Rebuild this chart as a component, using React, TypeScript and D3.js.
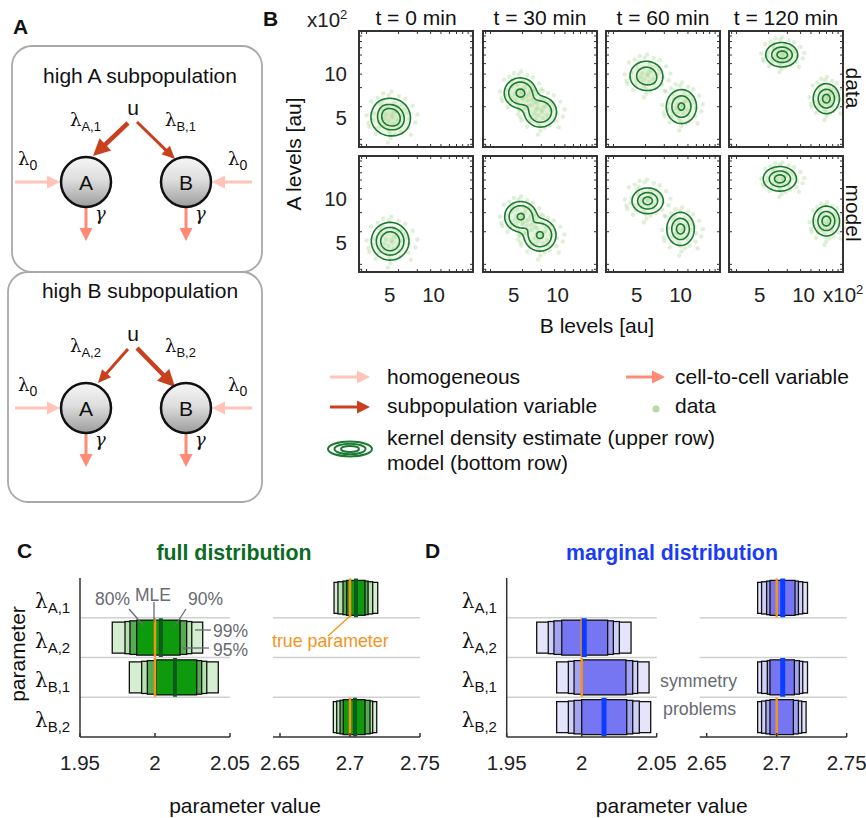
import React from 'react';
import * as d3 from 'd3';

const FONT = 'Liberation Sans, Arial, Helvetica, sans-serif';
const SERIF = 'DejaVu Serif, Liberation Serif, serif';

// ---------- panel B: A/B levels (x10^2 au) ----------
const times = ['t = 0 min', 't = 30 min', 't = 60 min', 't = 120 min'];
const rowNames = ['data', 'model'];
const levelTicks = [5, 10];
const domainB = [1.5, 14.5];
const domainA = [1.6, 14.8];

// clusters: [B level, A level, sd B, sd A, weight]
const dataClusters = [
  [[5.1, 5.0, 1.0, 0.95, 1], [6.0, 4.3, 0.6, 0.6, 0.12], [4.3, 6.0, 0.5, 0.5, 0.08]],
  [[5.75, 7.75, 0.85, 0.8, 1], [8.05, 5.6, 0.9, 0.85, 0.8], [6.9, 6.8, 0.6, 0.6, 0.1]],
  [[6.1, 9.7, 0.9, 0.8, 0.85], [10.1, 6.2, 0.8, 0.9, 1], [6.9, 9.1, 0.5, 0.5, 0.1]],
  [[7.5, 12.1, 0.85, 0.65, 1], [12.6, 7.1, 0.7, 0.8, 1], [8.2, 12.0, 0.45, 0.45, 0.1]],
];
const dataLevels = [[0.08, 0.33, 0.6], [0.1, 0.3, 0.85], [0.1, 0.4, 0.9], [0.1, 0.4, 0.8]];
const modelClusters = [
  [[5.05, 5.1, 1.0, 1.0, 1]],
  [[5.8, 7.9, 0.85, 0.8, 1], [8.0, 5.8, 0.85, 0.85, 1]],
  [[6.25, 9.7, 0.83, 0.68, 1], [10.0, 6.5, 0.73, 0.88, 1]],
  [[7.3, 12.2, 0.88, 0.65, 1], [12.6, 7.4, 0.7, 0.79, 1]],
];
const modelLevels = [[0.1, 0.29, 0.56], [0.1, 0.3, 0.9], [0.1, 0.39, 0.81], [0.1, 0.39, 0.78]];

// cell positions relative to their cluster, in sd units
const dotOffsets = [
  [0.1, 0.2], [-0.5, 0.3], [0.8, -0.4], [-1.2, -0.6], [1.5, 0.9], [-0.3, -1.4], [0.4, 1.6],
  [-1.8, 0.4], [2.0, -0.2], [-0.9, 1.9], [1.1, -1.7], [-2.3, -1.1], [2.4, 1.3], [0.0, -2.4],
  [-0.2, 2.5], [1.9, -1.2], [-1.6, -1.9], [0.6, 0.7], [-0.7, -0.2], [0.3, -0.8], [-1.0, 0.9],
  [1.3, 0.2], [-0.4, 1.1], [0.9, -1.0], [-2.6, 0.2], [2.7, -0.6], [-1.4, 2.2], [1.6, 2.1],
  [-0.1, -1.8], [0.2, 0.0], [-0.6, -0.9], [0.7, 1.2], [1.8, 0.5], [-1.9, -0.3], [0.5, -2.0],
  [-1.1, 1.5], [2.2, -2.0], [-2.1, 1.8], [0.1, 2.9], [-0.3, -2.9], [0.35, 0.55], [-0.25, -0.45],
  [1.2, 1.4], [-1.3, -1.2], [0.9, 2.4], [-2.4, -0.7], [2.9, 0.3], [-0.8, 2.7],
];

const colX = [359, 483, 606, 729];
const rowY = [31, 156];
const pw = 114;
const ph = 116;

// ---------- panels C / D: confidence intervals ----------
const params = ['A,1', 'A,2', 'B,1', 'B,2'];
const ciNames = ['99%', '95%', '90%', '80%'];
const trueValues = [2.7, 2.0, 2.0, 2.7];
const leftTicks = [1.95, 2, 2.05];
const rightTicks = [2.65, 2.7, 2.75];

const full99 = [[[2.6886, 2.7198]], [[1.9715, 2.0318]], [[1.9829, 2.0422]], [[2.6881, 2.7191]]];
const full95 = [[[2.6914, 2.7162]], [[1.98, 2.0245]], [[1.9911, 2.0345]], [[2.6905, 2.7162]]];
const full90 = [[[2.695, 2.7129]], [[1.9833, 2.0211]], [[1.9949, 2.0311]], [[2.6929, 2.7143]]];
const full80 = [[[2.6976, 2.7107]], [[1.9878, 2.0167]], [[2.0007, 2.0278]], [[2.6952, 2.7107]]];
const fullMLE = [[2.7043], [2.0039], [2.0133], [2.7036]];

const marg99 = [[[2.6864, 2.722]], [[1.97, 2.0329]], [[1.9833, 2.0449], [2.6864, 2.722]], [[1.9833, 2.046], [2.6864, 2.721]]];
const marg95 = [[[2.6892, 2.7186]], [[1.9777, 2.0251]], [[1.9911, 2.0373], [2.6892, 2.7186]], [[1.9911, 2.0384], [2.6892, 2.7179]]];
const marg90 = [[[2.6928, 2.7155]], [[1.9815, 2.0211]], [[1.9949, 2.034], [2.6933, 2.7162]], [[1.9949, 2.034], [2.6923, 2.7155]]];
const marg80 = [[[2.6952, 2.7131]], [[1.9867, 2.0173]], [[2.0, 2.0295], [2.6952, 2.7126]], [[2.0, 2.03], [2.6952, 2.7119]]];
const margMLE = [[2.7043], [2.0017], [2.7043], [2.0149]];

const fullColors = ['#d5eed1', '#b6e0ae', '#55ab52', '#0d9a0d'];
const margColors = ['#e4e4fb', '#cfcff8', '#a3a3f2', '#7676f3'];
const boxFrac = [0.78, 0.81, 0.845, 0.88];

function Arrow({ x1, y1, x2, y2, color, width = 3, head = 13, headW = 13 }: any) {
  const dx = x2 - x1, dy = y2 - y1, len = Math.hypot(dx, dy);
  const ux = dx / len, uy = dy / len;
  const bx = x2 - ux * head, by = y2 - uy * head;
  const px = (-uy * headW) / 2, py = (ux * headW) / 2;
  return (
    <g>
      <line x1={x1} y1={y1} x2={bx + ux} y2={by + uy} stroke={color} strokeWidth={width} />
      <polygon points={`${x2},${y2} ${bx + px},${by + py} ${bx - px},${by - py}`} fill={color} />
    </g>
  );
}

function Lam({ x, y, sub, size = 18, subSize = 13, fill = '#111' }: any) {
  return (
    <text x={x} y={y} fill={fill}>
      <tspan fontFamily={SERIF} fontSize={size}>λ</tspan>
      <tspan fontFamily={FONT} fontSize={subSize} dy={size * 0.25}>{sub}</tspan>
    </text>
  );
}

const PINK = '#ffc3b7';
const SALMON = '#ff8a75';
const RED = '#c9401e';

function Motif({ dy, title, titleY, sub1, sub2, thickA }: any) {
  const ay = 182 + dy;
  return (
    <g>
      <text x={140} y={titleY} textAnchor="middle" fontSize={21} fill="#111">{title}</text>
      <text x={133} y={115 + dy} textAnchor="middle" fontSize={21} fill="#111">u</text>
      <Lam x={70} y={126 + dy} sub={sub1} />
      <Lam x={165} y={126 + dy} sub={sub2} />
      <Arrow x1={128} y1={123 + dy} x2={thickA ? 93 : 98} y2={(thickA ? 156 : 157) + dy} color={RED}
        width={thickA ? 4.5 : 3} head={thickA ? 17 : 13} headW={thickA ? 17 : 12} />
      <Arrow x1={137} y1={122 + dy} x2={175} y2={(thickA ? 159 : 161) + dy} color={RED}
        width={thickA ? 3 : 4.5} head={thickA ? 13 : 17} headW={thickA ? 12 : 17} />
      <Arrow x1={15} y1={ay} x2={60} y2={ay} color={PINK} width={3} head={13} headW={13} />
      <Arrow x1={252} y1={ay} x2={212} y2={ay} color={PINK} width={3} head={13} headW={13} />
      <Arrow x1={86} y1={ay + 25} x2={86} y2={ay + 59} color={SALMON} width={3} head={13} headW={13} />
      <Arrow x1={186} y1={ay + 25} x2={186} y2={ay + 59} color={SALMON} width={3} head={13} headW={13} />
      <circle cx={86} cy={ay} r={25} fill="url(#nodeGrad)" stroke="#111" strokeWidth={2.5} />
      <circle cx={186} cy={ay} r={25} fill="url(#nodeGrad)" stroke="#111" strokeWidth={2.5} />
      <text x={86} y={ay + 7.5} textAnchor="middle" fontSize={21} fill="#111">A</text>
      <text x={186} y={ay + 7.5} textAnchor="middle" fontSize={21} fill="#111">B</text>
      <Lam x={18} y={165 + dy} sub="0" subSize={14} />
      <Lam x={228} y={165 + dy} sub="0" subSize={14} />
      <text x={95} y={220 + dy} fontFamily={SERIF} fontStyle="italic" fontSize={18} fill="#111">γ</text>
      <text x={195} y={220 + dy} fontFamily={SERIF} fontStyle="italic" fontSize={18} fill="#111">γ</text>
    </g>
  );
}

function PanelA() {
  return (
    <g>
      <text x={13} y={34} fontSize={21} fontWeight="bold" fill="#111">A</text>
      <rect x={12} y={46} width={250} height={226} rx={20} fill="none" stroke="#a9a9a9" strokeWidth={1.8} />
      <rect x={8} y={272} width={254} height={230} rx={20} fill="none" stroke="#a9a9a9" strokeWidth={1.8} />
      <Motif dy={0} title="high A subpopulation" titleY={83} sub1="A,1" sub2="B,1" thickA={true} />
      <Motif dy={226} title="high B subpopulation" titleY={298} sub1="A,2" sub2="B,2" thickA={false} />
    </g>
  );
}

function densityPaths(clusters: number[][], levels: number[], xs: any, ys: any) {
  const n = 100;
  const [x0, x1] = xs.domain();
  const [y0, y1] = ys.domain();
  const vals = new Array(n * n);
  for (let j = 0; j < n; j++) {
    const y = y0 + ((j + 0.5) / n) * (y1 - y0);
    for (let i = 0; i < n; i++) {
      const x = x0 + ((i + 0.5) / n) * (x1 - x0);
      let v = 0;
      for (const [cx, cy, sx, sy, w] of clusters) {
        v += w * Math.exp(-0.5 * ((x - cx) / sx) ** 2 - 0.5 * ((y - cy) / sy) ** 2);
      }
      vals[j * n + i] = v;
    }
  }
  const mx = d3.max(vals) as number;
  const cs = d3.contours().size([n, n]).thresholds(levels.map((l) => l * mx))(vals);
  const proj = d3.geoTransform({
    point: function (px: number, py: number) {
      (this as any).stream.point(xs(x0 + (px / n) * (x1 - x0)), ys(y0 + (py / n) * (y1 - y0)));
    },
  });
  const path = d3.geoPath(proj);
  return cs.map((c) => path(c as any));
}

function ScatterPanel({ col, row }: any) {
  const x0 = colX[col], y0 = rowY[row];
  const xs = d3.scaleLinear(domainB, [x0, x0 + pw]);
  const ys = d3.scaleLinear(domainA, [y0 + ph, y0]);
  const clusters = row === 0 ? dataClusters[col] : modelClusters[col];
  const levels = row === 0 ? dataLevels[col] : modelLevels[col];
  const paths = densityPaths(clusters, levels, xs, ys);
  const dots = dataClusters[col]
    .filter((c) => c[4] >= 0.5)
    .flatMap((c) => dotOffsets.map(([u, v]) => [c[0] + u * c[2] * 1.05, c[1] + v * c[3] * 1.05]));
  const xl = d3.scaleLog([0.085, 1], [x0, x0 + pw]);
  const yl = d3.scaleLog([0.085, 1], [y0 + ph, y0]);
  const tk = xl.ticks().filter((t) => t > 0.086 && t < 0.99);
  const tl = 3;
  return (
    <g>
      {paths.map((d, i) => (
        <path key={`f${i}`} d={d || ''} fill="#b9dea6" fillOpacity={row === 0 ? 0.28 : 0.18} stroke="none" />
      ))}
      <g fill="#a3d48c" fillOpacity={0.35}>
        {dots.map(([b, a], i) => (
          <circle key={i} cx={xs(b)} cy={ys(a)} r={2.2} />
        ))}
      </g>
      {paths.map((d, i) => (
        <path key={i} d={d || ''} fill="none" stroke="#1c7a33" strokeWidth={1.6} />
      ))}
      <g stroke="#333" strokeWidth={1}>
        {tk.map((t, i) => (
          <g key={i}>
            <line x1={xl(t)} x2={xl(t)} y1={y0 + ph} y2={y0 + ph - tl} />
            <line x1={xl(t)} x2={xl(t)} y1={y0} y2={y0 + tl} />
            <line y1={yl(t)} y2={yl(t)} x1={x0} x2={x0 + tl} />
            <line y1={yl(t)} y2={yl(t)} x1={x0 + pw} x2={x0 + pw - tl} />
          </g>
        ))}
      </g>
      <rect x={x0} y={y0} width={pw} height={ph} fill="none" stroke="#333" strokeWidth={2} />
      {row === 1 &&
        levelTicks.map((t) => (
          <text key={t} x={xs(t)} y={302} textAnchor="middle" fontSize={20.5} fill="#222">{t}</text>
        ))}
      {col === 0 &&
        levelTicks.map((t) => (
          <text key={t} x={347} y={ys(t) + 7.5} textAnchor="end" fontSize={20.5} fill="#222">{t}</text>
        ))}
    </g>
  );
}

function PanelB() {
  return (
    <g>
      <text x={263} y={26} fontSize={21} fontWeight="bold" fill="#111">B</text>
      {times.map((t, i) => (
        <text key={t} x={colX[i] + pw / 2} y={25} textAnchor="middle" fontSize={21} fill="#111">{t}</text>
      ))}
      {[0, 1].map((r) => [0, 1, 2, 3].map((c) => <ScatterPanel key={`${r}-${c}`} col={c} row={r} />))}
      <text x={307} y={27} fontSize={20.5} fill="#222">x10<tspan fontSize={13} dy={-8}>2</tspan></text>
      <text x={823} y={302} fontSize={20.5} fill="#222">x10<tspan fontSize={13} dy={-8}>2</tspan></text>
      <text transform="translate(301,154) rotate(-90)" textAnchor="middle" fontSize={21} fill="#111">A levels [au]</text>
      <text x={597} y={333} textAnchor="middle" fontSize={21} fill="#111">B levels [au]</text>
      {rowNames.map((r, i) => (
        <text key={r} transform={`translate(846,${rowY[i] + ph / 2 - 1}) rotate(90)`} textAnchor="middle" fontSize={21} fill="#111">{r}</text>
      ))}
    </g>
  );
}

function Legend() {
  return (
    <g fontSize={21} fill="#111">
      <Arrow x1={330} y1={377} x2={370} y2={377} color={PINK} width={3} head={13} headW={13} />
      <text x={387} y={384}>homogeneous</text>
      <Arrow x1={626} y1={377} x2={665} y2={377} color={SALMON} width={3} head={13} headW={13} />
      <text x={675} y={384}>cell-to-cell variable</text>
      <Arrow x1={330} y1={407} x2={370} y2={407} color={RED} width={3} head={13} headW={13} />
      <text x={387} y={413}>subpopulation variable</text>
      <circle cx={656} cy={409} r={3.5} fill="#b5dca2" />
      <text x={675} y={413}>data</text>
      {[[22, 7.5], [15.5, 5.2], [9, 3]].map(([rx, ry], i) => (
        <ellipse key={i} cx={350} cy={449} rx={rx} ry={ry} fill="none" stroke="#1c7a33" strokeWidth={2} />
      ))}
      <text x={387} y={445}>kernel density estimate (upper row)</text>
      <text x={387} y={470}>model (bottom row)</text>
    </g>
  );
}

function IntervalPanel({ ox, sets, colors, mle, mleColor, mleWidth }: any) {
  const left = d3.scaleLinear([1.95, 2.05], [80 + ox, 230 + ox]);
  const right = d3.scaleLinear([2.645, 2.75], [273 + ox, 420 + ox]);
  const y = d3.scaleBand(params, [578, 737]);
  const bw = y.bandwidth();
  const sx = (v: number) => (v < 2.3 ? left(v) : right(v));
  return (
    <g>
      {params.slice(1).map((p) => (
        <g key={p} stroke="#d0d0d0" strokeWidth={1.5}>
          <line x1={left.range()[0]} x2={left.range()[1]} y1={y(p)} y2={y(p)} />
          <line x1={right.range()[0]} x2={right.range()[1]} y1={y(p)} y2={y(p)} />
        </g>
      ))}
      {sets.map((set: any, li: number) =>
        set.map((segs: any, pi: number) =>
          segs.map(([lo, hi]: number[], si: number) => {
            const h = bw * boxFrac[li];
            const yc = (y(params[pi]) as number) + bw / 2;
            return (
              <rect key={`${li}-${pi}-${si}`} x={sx(lo)} y={yc - h / 2} width={sx(hi) - sx(lo)} height={h}
                fill={colors[li]} stroke="#111" strokeWidth={1.3} />
            );
          })
        )
      )}
      {trueValues.map((v, pi) => (
        <line key={pi} x1={sx(v)} x2={sx(v)} y1={(y(params[pi]) as number) + 0.5} y2={(y(params[pi]) as number) + bw - 0.5}
          stroke="#f5931b" strokeWidth={2.5} />
      ))}
      {mle.map((vs: number[], pi: number) =>
        vs.map((v) => (
          <line key={`${pi}-${v}`} x1={sx(v)} x2={sx(v)} y1={(y(params[pi]) as number) + 0.5} y2={(y(params[pi]) as number) + bw - 0.5}
            stroke={mleColor} strokeWidth={mleWidth} />
        ))
      )}
      <g stroke="#333" strokeWidth={1.5} fill="none">
        <line x1={80 + ox} x2={80 + ox} y1={578} y2={737} />
        <line x1={80 + ox} x2={230 + ox} y1={737} y2={737} />
        <line x1={273 + ox} x2={420 + ox} y1={737} y2={737} />
        {leftTicks.map((t) => <line key={t} x1={left(t)} x2={left(t)} y1={737} y2={733} />)}
        {rightTicks.map((t) => <line key={t} x1={right(t)} x2={right(t)} y1={737} y2={733} />)}
      </g>
      {leftTicks.map((t) => (
        <text key={t} x={left(t)} y={770} textAnchor="middle" fontSize={20.5} fill="#222">{String(t)}</text>
      ))}
      {rightTicks.map((t) => (
        <text key={t} x={right(t)} y={770} textAnchor="middle" fontSize={20.5} fill="#222">{String(t)}</text>
      ))}
      {params.map((p) => (
        <Lam key={p} x={35 + ox} y={(y(p) as number) + bw / 2 + 10} sub={p} size={20} subSize={15} />
      ))}
      <text x={245 + ox} y={813} textAnchor="middle" fontSize={21} fill="#111">parameter value</text>
    </g>
  );
}

function PanelC() {
  const grey = '#676b72';
  return (
    <g>
      <text x={17} y={558} fontSize={21} fontWeight="bold" fill="#111">C</text>
      <text x={234} y={560} textAnchor="middle" fontSize={21.3} fontWeight="bold" fill="#0c6b22">full distribution</text>
      <text transform="translate(25,654) rotate(-90)" textAnchor="middle" fontSize={21} fill="#111">parameter</text>
      <IntervalPanel ox={0} sets={[full99, full95, full90, full80]} colors={fullColors} mle={fullMLE} mleColor="#0b5c1c" mleWidth={4} />
      <g stroke={grey} strokeWidth={1.3}>
        <line x1={129} y1={609} x2={143} y2={625} />
        <line x1={154} y1={602} x2={154} y2={622} />
        <line x1={186} y1={609} x2={175} y2={626} />
        <line x1={195} y1={630} x2={211} y2={630} />
        <line x1={183} y1={648} x2={209} y2={648} />
      </g>
      <g fontSize={17.5} fill={grey}>
        <text x={95} y={605}>{ciNames[3]}</text>
        <text x={135} y={601}>MLE</text>
        <text x={188} y={605}>{ciNames[2]}</text>
        <text x={213} y={637}>{ciNames[0]}</text>
        <text x={213} y={656}>{ciNames[1]}</text>
      </g>
      <line x1={351} y1={615} x2={328} y2={636} stroke="#f5931b" strokeWidth={1.3} />
      <text x={272} y={647} fontSize={17.8} fill="#f5931b">true parameter</text>
    </g>
  );
}

function PanelD() {
  const ox = 426.7;
  return (
    <g>
      <text x={425} y={558} fontSize={21} fontWeight="bold" fill="#111">D</text>
      <text x={672} y={560} textAnchor="middle" fontSize={21.3} fontWeight="bold" fill="#1a3cf5">marginal distribution</text>
      <IntervalPanel ox={ox} sets={[marg99, marg95, marg90, marg80]} colors={margColors} mle={margMLE} mleColor="#0b3dff" mleWidth={5} />
      <text x={660} y={687} fontSize={17.8} fill="#676b72">symmetry</text>
      <text x={663} y={715} fontSize={17.8} fill="#676b72">problems</text>
    </g>
  );
}

export default function App() {
  return (
    <svg width={866} height={818} style={{ position: 'absolute', left: 0, top: 0, background: '#fff' }} fontFamily={FONT}>
      <defs>
        <linearGradient id="nodeGrad" x1="0" y1="0" x2="0" y2="1">
          <stop offset="0" stopColor="#f6f6f6" />
          <stop offset="0.45" stopColor="#dedede" />
          <stop offset="1" stopColor="#9c9c9c" />
        </linearGradient>
      </defs>
      <PanelA />
      <PanelB />
      <Legend />
      <PanelC />
      <PanelD />
    </svg>
  );
}
